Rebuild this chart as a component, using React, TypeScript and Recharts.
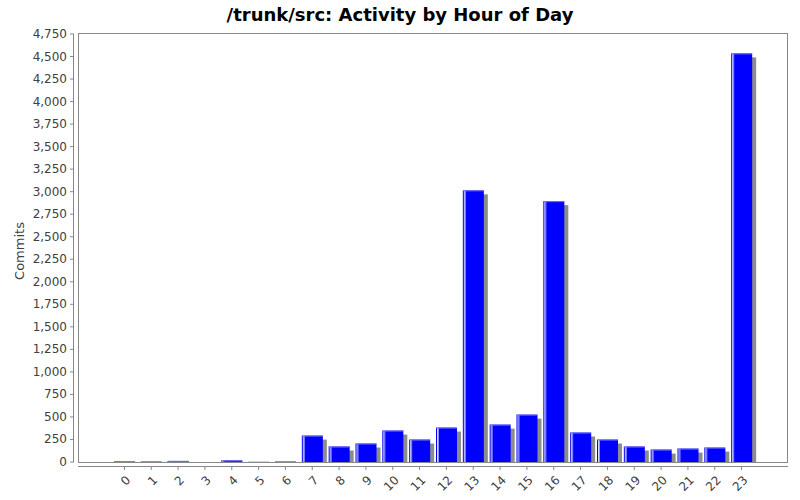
import React from "react";
import { Bar, BarChart, XAxis, YAxis } from "recharts";

// hour of day labels and commit counts per hour
const hours = ["0", "1", "2", "3", "4", "5", "6", "7", "8", "9", "10", "11", "12", "13", "14", "15", "16", "17", "18", "19", "20", "21", "22", "23"];
const commits = [6, 5, 12, 0, 18, 2, 5, 293, 172, 205, 349, 249, 382, 3015, 415, 526, 2895, 327, 249, 172, 138, 149, 160, 4535];
const yTicks = [0, 250, 500, 750, 1000, 1250, 1500, 1750, 2000, 2250, 2500, 2750, 3000, 3250, 3500, 3750, 4000, 4250, 4500, 4750];

const data = hours.map((h, i) => ({ hour: h, commits: commits[i] }));

const FONT = "'DejaVu Sans', sans-serif";
const TEXT = "#404040";
const AXIS = "#888888";

const YTick = (props: any) => {
  const { x, y, payload } = props;
  return (
    <g>
      <line x1={x - 8} x2={x - 4} y1={y} y2={y} stroke={AXIS} />
      <text x={x - 11} y={y} textAnchor="end" dominantBaseline="central" fontFamily={FONT} fontSize={12} fill={TEXT}>
        {Number(payload.value).toLocaleString("en-US")}
      </text>
    </g>
  );
};

const XTick = (props: any) => {
  const { x, y, payload } = props;
  const ax = x + 4;
  const ay = y + 16;
  return (
    <g>
      <line x1={x} x2={x} y1={y + 4} y2={y + 8} stroke={AXIS} />
      <text
        x={ax}
        y={ay}
        textAnchor="end"
        dominantBaseline="central"
        transform={`rotate(-45 ${ax} ${ay})`}
        fontFamily={FONT}
        fontSize={12}
        fill={TEXT}
      >
        {payload.value}
      </text>
    </g>
  );
};

const ShadowBar = (props: any) => {
  const { x, y, width, height } = props;
  if (!height || height <= 0) return null;
  return (
    <g>
      {height > 4 && <rect x={x + 4} y={y + 4} width={width} height={height - 4} fill="#8c8c8c" />}
      <rect x={x} y={y} width={width} height={height} fill="#0000ff" />
      {height > 1 && (
        <>
          <rect x={x + 1} y={y} width={1} height={height} fill="#ffffff" fillOpacity={0.85} />
          <rect x={x + 2} y={y} width={1} height={height} fill="#8f8fff" />
          <rect x={x} y={y} width={width} height={1} fill="#7070ff" />
        </>
      )}
    </g>
  );
};

export default function App() {
  return (
    <div style={{ position: "absolute", left: 0, top: 0, width: 800, height: 500, background: "#fff" }}>
      <svg width={800} height={500} style={{ position: "absolute", left: 0, top: 0 }}>
        <text x={400} y={20.5} textAnchor="middle" fontFamily={FONT} fontWeight="bold" fontSize={18} fill="#000">
          /trunk/src: Activity by Hour of Day
        </text>
        <text
          x={24}
          y={251}
          textAnchor="middle"
          transform="rotate(-90 24 251)"
          fontFamily={FONT}
          fontSize={13}
          fill={TEXT}
        >
          Commits
        </text>
        <rect x={78.5} y={33.5} width={709} height={429} fill="none" stroke={AXIS} />
        <line x1={73.5} x2={73.5} y1={34} y2={462} stroke={AXIS} />
        <line x1={78} x2={788} y1={466.5} y2={466.5} stroke={AXIS} />
      </svg>
      <div style={{ position: "absolute", left: 0, top: 0 }}>
        <BarChart
          width={800}
          height={500}
          data={data}
          margin={{ top: 34, right: 12, bottom: 37, left: 77 }}
          barSize={21}
        >
          <XAxis
            dataKey="hour"
            height={1}
            interval={0}
            axisLine={false}
            tickLine={false}
            tickSize={0}
            tickMargin={0}
            padding={{ left: 33, right: 33 }}
            tick={<XTick />}
          />
          <YAxis
            width={1}
            domain={[0, 4750]}
            ticks={yTicks}
            interval={0}
            axisLine={false}
            tickLine={false}
            tickSize={0}
            tickMargin={0}
            tick={<YTick />}
          />
          <Bar dataKey="commits" shape={<ShadowBar />} isAnimationActive={false} />
        </BarChart>
      </div>
    </div>
  );
}
